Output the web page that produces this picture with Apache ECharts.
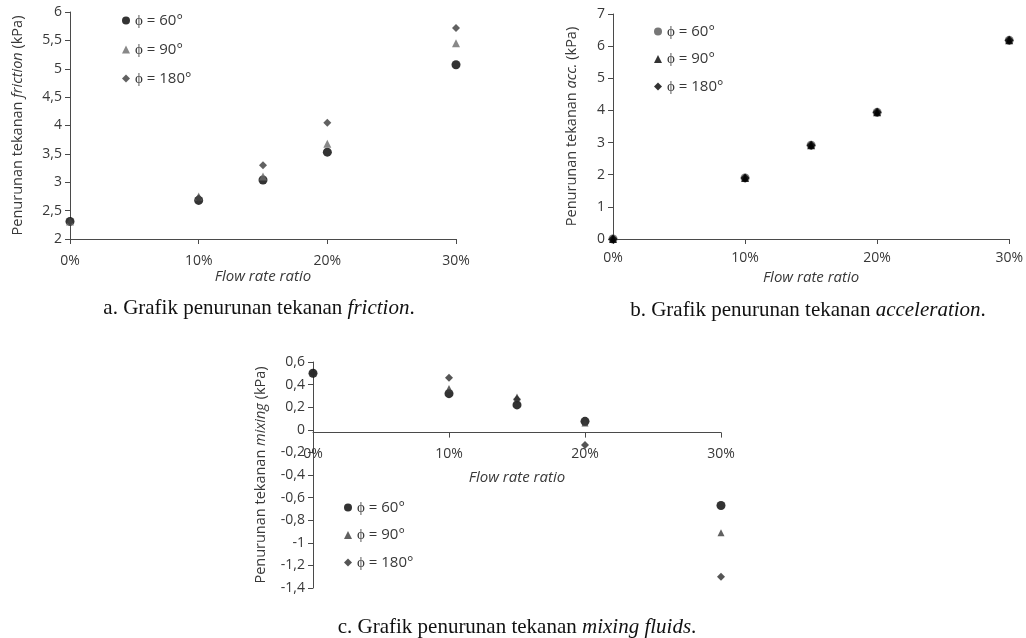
<!DOCTYPE html>
<html>
<head>
<meta charset="utf-8">
<script src="https://cdn.jsdelivr.net/npm/echarts@6/dist/echarts.min.js"></script>
<style>
  html, body { margin: 0; padding: 0; background: #fff; }
  #chart { width: 1026px; height: 638px; }
</style>
</head>
<body>
<div id="chart"></div>
<script>
// flow rate ratio (%)
const flowRatio = [0, 10, 15, 20, 30]
const xTicks = ['0%', '10%', '20%', '30%']
const legendNames = ['ϕ = 60°', 'ϕ = 90°', 'ϕ = 180°']

// a. friction (kPa)
const friction60 = [2.31, 2.68, 3.04, 3.53, 5.07]
const friction90 = [2.31, 2.75, 3.10, 3.68, 5.45]
const friction180 = [2.31, 2.72, 3.30, 4.05, 5.72]

// b. acceleration (kPa)
const acc60 = [0, 1.90, 2.92, 3.94, 6.18]
const acc90 = [0, 1.90, 2.92, 3.94, 6.18]
const acc180 = [0, 1.90, 2.92, 3.94, 6.18]

// c. mixing fluids (kPa)
const mixing60 = [0.50, 0.32, 0.22, 0.075, -0.67]
const mixing90 = [0.50, 0.365, 0.29, 0.06, -0.91]
const mixing180 = [0.50, 0.46, 0.27, -0.135, -1.30]

const sansFont = 'Open Sans'
const serifFont = 'Liberation Serif'
const textColor = '#383838'
const lineColor = '#4a4a4a'

const pairs = ys => flowRatio.map((x, i) => [x, ys[i]])
const comma = v => String(+v.toFixed(1)).replace('.', ',')

function xAxisOf(gridIndex, nameGap, margin) {
  return {
    type: 'value', gridIndex, min: 0, max: 30, interval: 10,
    name: 'Flow rate ratio', nameLocation: 'middle', nameGap,
    nameTextStyle: { fontFamily: sansFont, fontStyle: 'italic', fontSize: 15, color: textColor },
    axisLine: { onZero: false, lineStyle: { color: lineColor, width: 1 } },
    axisTick: { show: true, length: 5, lineStyle: { color: lineColor } },
    axisLabel: { margin, fontFamily: sansFont, fontSize: 14, color: textColor,
      formatter: v => xTicks[v / 10] },
    splitLine: { show: false }
  }
}

function yAxisOf(gridIndex, min, max, interval, word, nameGap) {
  return {
    type: 'value', gridIndex, min, max, interval,
    name: '{n|Penurunan tekanan }{i|' + word + '}{n| (kPa)}',
    nameLocation: 'middle', nameGap,
    nameTextStyle: {
      rich: {
        n: { fontFamily: sansFont, fontSize: 14.5, color: textColor },
        i: { fontFamily: sansFont, fontSize: 14.5, fontStyle: 'italic', color: textColor }
      }
    },
    axisLine: { show: true, onZero: false, lineStyle: { color: lineColor, width: 1 } },
    axisTick: { show: true, length: 5, lineStyle: { color: lineColor } },
    axisLabel: { margin: 8, fontFamily: sansFont, fontSize: 14, color: textColor, formatter: comma },
    splitLine: { show: false }
  }
}

function scatter(name, idx, data, symbol, size, color) {
  return {
    name, type: 'scatter', xAxisIndex: idx, yAxisIndex: idx,
    data: pairs(data), symbol, symbolSize: size,
    itemStyle: { color }, silent: true
  }
}

function legendOf(prefix, left, top, gap) {
  return {
    data: ['60', '90', '180'].map(k => prefix + k),
    orient: 'vertical', left, top, itemGap: gap,
    itemWidth: 8, itemHeight: 8,
    formatter: n => legendNames[['60', '90', '180'].indexOf(n.slice(1))],
    textStyle: { fontFamily: sansFont, fontSize: 15, color: textColor },
    selectedMode: false
  }
}

function caption(x, y, lead, word) {
  return {
    type: 'text', x, y,
    style: {
      text: '{n|' + lead + '}{i|' + word + '}{n|.}',
      align: 'center', verticalAlign: 'middle',
      rich: {
        n: { fontFamily: serifFont, fontSize: 21, fill: '#111' },
        i: { fontFamily: serifFont, fontSize: 21, fontStyle: 'italic', fill: '#111' }
      }
    }
  }
}

const chart = echarts.init(document.getElementById('chart'))
chart.setOption({
  animation: false,
  grid: [
    { left: 70, top: 12, width: 386, height: 227 },
    { left: 613, top: 14, width: 397, height: 225 },
    { left: 313, top: 362, width: 408, height: 226 }
  ],
  xAxis: [xAxisOf(0, 30, 15), xAxisOf(1, 31, 12), xAxisOf(2, 38, 14)],
  yAxis: [
    yAxisOf(0, 2, 6, 0.5, 'friction', 45),
    yAxisOf(1, 0, 7, 1, 'acc.', 34),
    yAxisOf(2, -1.4, 0.6, 0.2, 'mixing', 45)
  ],
  legend: [
    legendOf('a', 117, 8, 14),
    legendOf('b', 649, 19, 12.5),
    legendOf('c', 339, 495, 12.5)
  ],
  series: [
    scatter('a60', 0, friction60, 'circle', 9, '#000'),
    scatter('a90', 0, friction90, 'triangle', 8, '#6a6a6a'),
    scatter('a180', 0, friction180, 'diamond', 8, '#3a3a3a'),
    scatter('b60', 1, acc60, 'circle', 9, '#555'),
    scatter('b90', 1, acc90, 'triangle', 8, '#000'),
    scatter('b180', 1, acc180, 'diamond', 9, '#000'),
    scatter('c60', 2, mixing60, 'circle', 9, '#000'),
    scatter('c90', 2, mixing90, 'triangle', 7, '#3a3a3a'),
    scatter('c180', 2, mixing180, 'diamond', 8, '#2a2a2a')
  ],
  graphic: [
    caption(259, 308, 'a. Grafik penurunan tekanan ', 'friction'),
    caption(808, 310, 'b. Grafik penurunan tekanan ', 'acceleration'),
    caption(517, 627, 'c. Grafik penurunan tekanan ', 'mixing fluids')
  ]
})

// chart c: the x axis sits on y = 0, found through the y scale
const yZero = chart.convertToPixel({ yAxisIndex: 2 }, 0)
const yBottom = chart.convertToPixel({ yAxisIndex: 2 }, -1.4)
chart.setOption({ xAxis: [{}, {}, { offset: yZero - yBottom }] })
</script>
</body>
</html>
